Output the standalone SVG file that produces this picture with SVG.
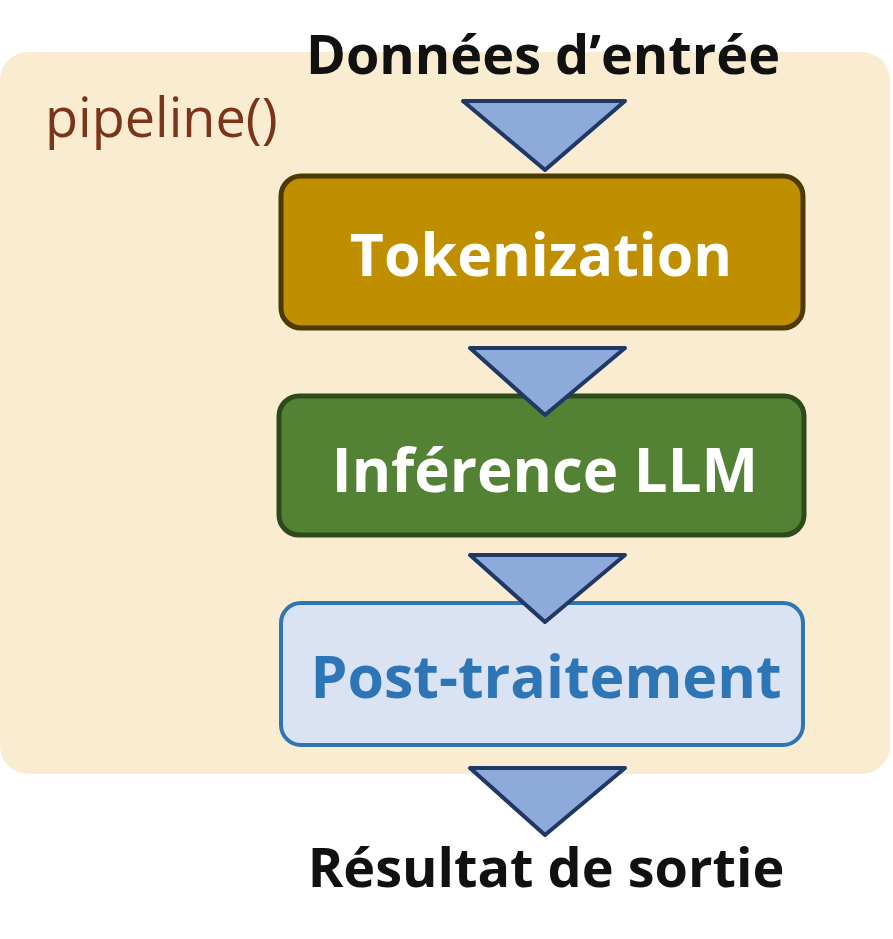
<svg xmlns="http://www.w3.org/2000/svg" width="893" height="939" viewBox="0 0 893 939">
<style>
.t{font-family:"Open Sans","Liberation Sans",sans-serif;font-weight:bold;text-anchor:middle}
.tri{fill:#8eaadb;stroke:#1f3864;stroke-width:4;stroke-linejoin:round}
</style>
<rect width="893" height="939" fill="#ffffff"/>
<g id="pipeline">
<rect x="0" y="52" width="890" height="722" rx="28" fill="#faecd0"/>
<text x="45" y="137" font-family="Open Sans, Liberation Sans, sans-serif" font-size="54" fill="#7a3419">pipeline()</text>
</g>
<g id="input"><text class="t" x="543" y="74" font-size="54" fill="#111">Données d’entrée</text></g>
<g id="tokenization">
<rect x="281" y="176" width="522" height="152" rx="20" fill="#bf8f00" stroke="#4d3a00" stroke-width="5"/>
<text class="t" x="541" y="276" font-size="59" fill="#fff">Tokenization</text>
</g>
<g id="inference">
<rect x="279" y="396" width="525" height="139" rx="20" fill="#548235" stroke="#2c4a1a" stroke-width="5"/>
<text class="t" x="545" y="492" font-size="60" fill="#fff">Inférence LLM</text>
</g>
<g id="post">
<rect x="281" y="603" width="522" height="142" rx="20" fill="#dae3f3" stroke="#2e75b6" stroke-width="4"/>
<text class="t" x="546" y="698" font-size="59" fill="#2e75b6">Post-traitement</text>
</g>
<g id="output"><text class="t" x="546" y="887" font-size="54" fill="#111">Résultat de sortie</text></g>
<g id="connectors">
<polygon class="tri" points="463,101 625,101 545,170"/>
<polygon class="tri" points="470,348 625,348 545,415"/>
<polygon class="tri" points="470,555 625,555 545,622"/>
<polygon class="tri" points="470,768 625,768 545,835"/>
</g>
</svg>
